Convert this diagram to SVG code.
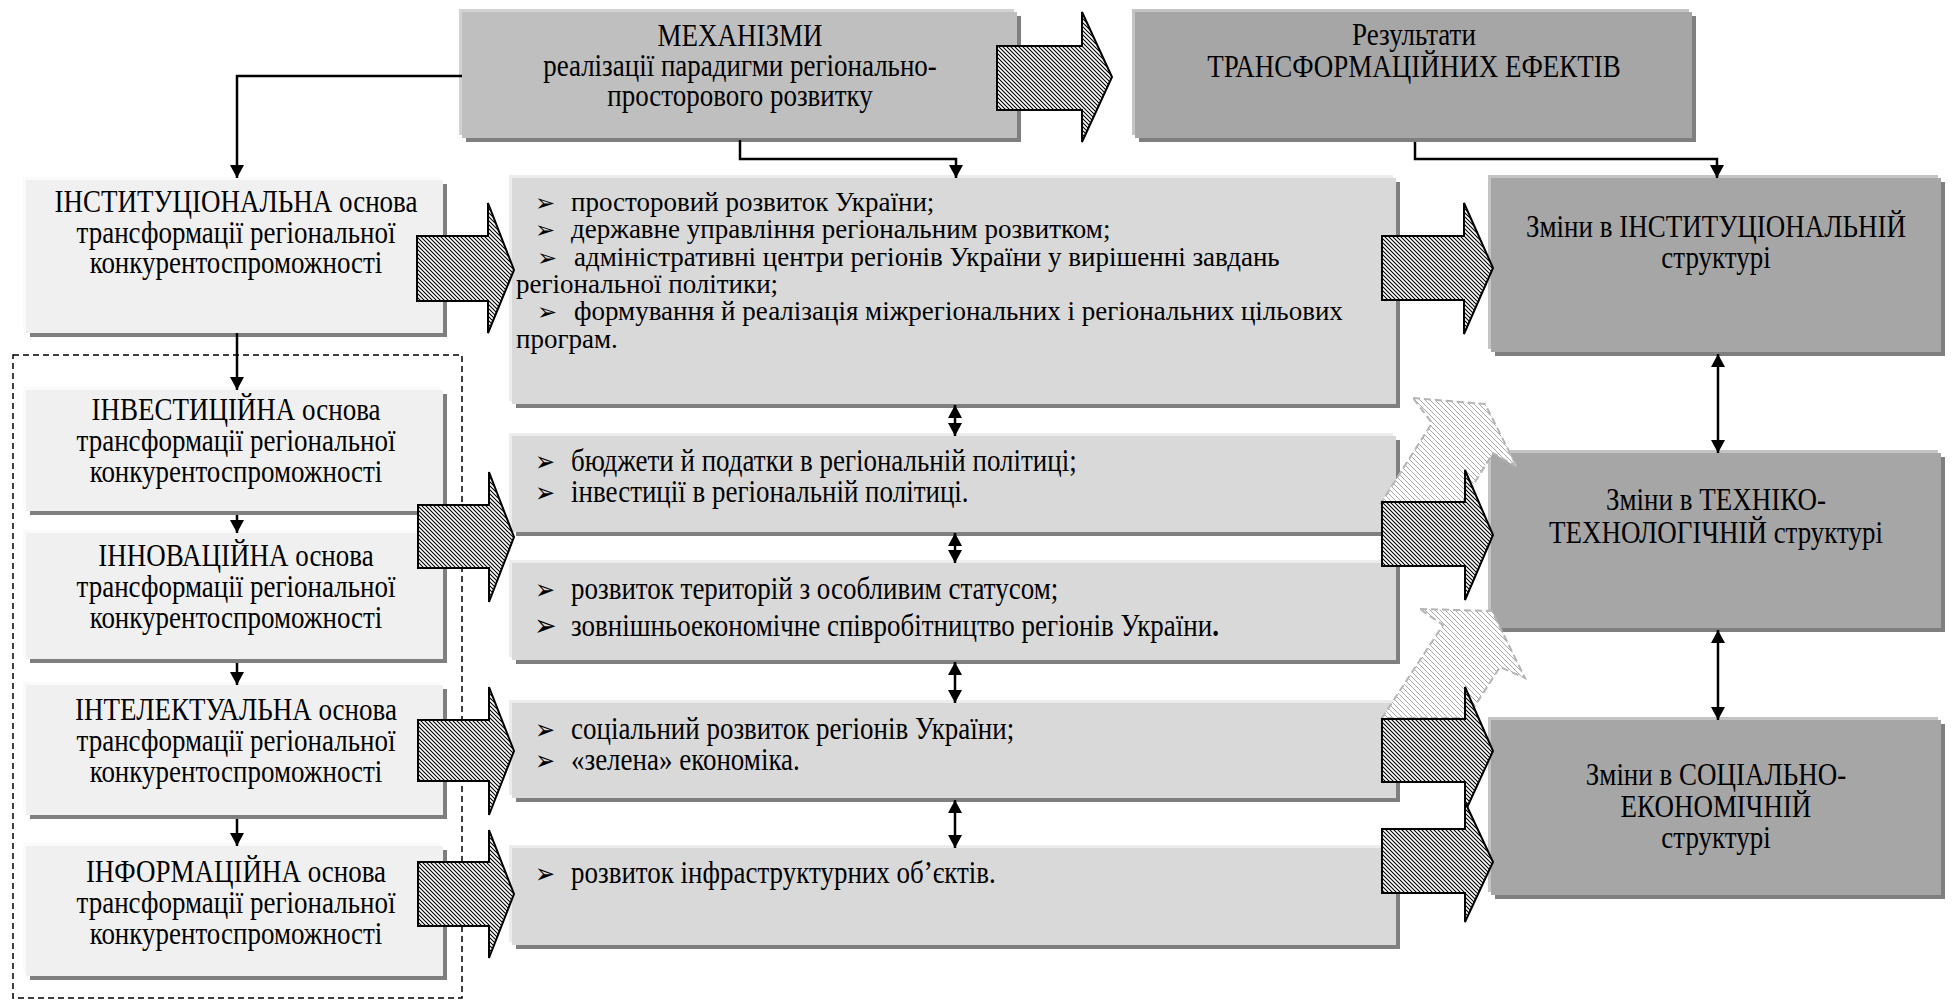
<svg xmlns="http://www.w3.org/2000/svg" width="1952" height="1001" viewBox="0 0 1952 1001" font-family="'Liberation Serif', 'Times New Roman', 'DejaVu Serif', serif">
<style>
text{font-family:'Liberation Serif','Times New Roman','DejaVu Serif',serif;font-size:27px;fill:#000}
.c{text-anchor:middle}
.b{font-family:'DejaVu Sans',sans-serif;font-size:24px}
.sh{fill:#7f7f7f}
.lt{fill:#f0f0f0}
.md{fill:#d9d9d9}
.mk{fill:#bfbfbf}
.dk{fill:#a6a6a6}
.hl1{fill:#fafafa}
.hl2{fill:#ececec}
.hl3{fill:#d2d2d2}
.hl4{fill:#c4c4c4}
.con{fill:none;stroke:#000;stroke-width:2.5}
.blk{fill:url(#hatch);stroke:#000;stroke-width:2;stroke-linejoin:miter}
.gh{fill:url(#ghatch);stroke:#b4b4b4;stroke-width:2;stroke-dasharray:7 4}
</style>
<defs>
<pattern id="hatch" width="4" height="4" patternUnits="userSpaceOnUse"><rect width="4" height="4" fill="#fff"/><path d="M-1,-1 L5,5 M3,-1 L5,1 M-1,3 L1,5" stroke="#000" stroke-width="1.1"/></pattern>
<pattern id="ghatch" width="5" height="5" patternUnits="userSpaceOnUse"><rect width="5" height="5" fill="#fff"/><path d="M-1,-1 L6,6 M4,-1 L6,1 M-1,4 L1,6" stroke="#a9a9a9" stroke-width="1"/></pattern>
<marker id="ah" viewBox="0 0 10 10" refX="10" refY="5" markerWidth="13" markerHeight="14" markerUnits="userSpaceOnUse" orient="auto-start-reverse" preserveAspectRatio="none"><path d="M0,0 L10,5 L0,10 z" fill="#000"/></marker>
</defs>

<rect x="13" y="355" width="449" height="643" fill="none" stroke="#000" stroke-width="1.5" stroke-dasharray="6 4"/>

<g id="mechanisms">
<rect x="459" y="9" width="555" height="126" class="hl3"/>
<rect x="466" y="16" width="555" height="126" class="sh"/>
<rect x="462" y="12" width="555" height="126" class="mk"/>
<text class="c" x="740" y="0" transform="matrix(1 0 0 1.15 0 46)">МЕХАНІЗМИ</text>
<text class="c" x="740" y="0" transform="matrix(1 0 0 1.15 0 76)">реалізації парадигми регіонально-</text>
<text class="c" x="740" y="0" transform="matrix(1 0 0 1.15 0 106)">просторового розвитку</text>
</g>

<g id="results">
<rect x="1132" y="9" width="557" height="126" class="hl4"/>
<rect x="1139" y="16" width="557" height="126" class="sh"/>
<rect x="1135" y="12" width="557" height="126" class="dk"/>
<text class="c" x="1414" y="0" transform="matrix(1 0 0 1.15 0 45)">Результати</text>
<text class="c" x="1414" y="0" transform="matrix(1 0 0 1.15 0 77)">ТРАНСФОРМАЦІЙНИХ ЕФЕКТІВ</text>
</g>

<g id="inst-basis">
<rect x="23" y="177" width="417" height="153" class="hl1"/>
<rect x="30" y="184" width="417" height="153" class="sh"/>
<rect x="26" y="180" width="417" height="153" class="lt"/>
<text class="c" x="236" y="0" transform="matrix(1 0 0 1.15 0 212)">ІНСТИТУЦІОНАЛЬНА основа</text>
<text class="c" x="236" y="0" transform="matrix(1 0 0 1.15 0 243)">трансформації регіональної</text>
<text class="c" x="236" y="0" transform="matrix(1 0 0 1.15 0 273)">конкурентоспроможності</text>
</g>

<g id="invest-basis">
<rect x="23" y="387" width="417" height="121" class="hl1"/>
<rect x="30" y="394" width="417" height="121" class="sh"/>
<rect x="26" y="390" width="417" height="121" class="lt"/>
<text class="c" x="236" y="0" transform="matrix(1 0 0 1.15 0 420)">ІНВЕСТИЦІЙНА основа</text>
<text class="c" x="236" y="0" transform="matrix(1 0 0 1.15 0 451)">трансформації регіональної</text>
<text class="c" x="236" y="0" transform="matrix(1 0 0 1.15 0 482)">конкурентоспроможності</text>
</g>

<g id="innov-basis">
<rect x="23" y="530" width="417" height="126" class="hl1"/>
<rect x="30" y="537" width="417" height="126" class="sh"/>
<rect x="26" y="533" width="417" height="126" class="lt"/>
<text class="c" x="236" y="0" transform="matrix(1 0 0 1.15 0 566)">ІННОВАЦІЙНА основа</text>
<text class="c" x="236" y="0" transform="matrix(1 0 0 1.15 0 597)">трансформації регіональної</text>
<text class="c" x="236" y="0" transform="matrix(1 0 0 1.15 0 628)">конкурентоспроможності</text>
</g>

<g id="intel-basis">
<rect x="23" y="682" width="417" height="130" class="hl1"/>
<rect x="30" y="689" width="417" height="130" class="sh"/>
<rect x="26" y="685" width="417" height="130" class="lt"/>
<text class="c" x="236" y="0" transform="matrix(1 0 0 1.15 0 720)">ІНТЕЛЕКТУАЛЬНА основа</text>
<text class="c" x="236" y="0" transform="matrix(1 0 0 1.15 0 751)">трансформації регіональної</text>
<text class="c" x="236" y="0" transform="matrix(1 0 0 1.15 0 782)">конкурентоспроможності</text>
</g>

<g id="inform-basis">
<rect x="23" y="843" width="417" height="130" class="hl1"/>
<rect x="30" y="850" width="417" height="130" class="sh"/>
<rect x="26" y="846" width="417" height="130" class="lt"/>
<text class="c" x="236" y="0" transform="matrix(1 0 0 1.15 0 882)">ІНФОРМАЦІЙНА основа</text>
<text class="c" x="236" y="0" transform="matrix(1 0 0 1.15 0 913)">трансформації регіональної</text>
<text class="c" x="236" y="0" transform="matrix(1 0 0 1.15 0 944)">конкурентоспроможності</text>
</g>

<g id="mech-1">
<rect x="509" y="175" width="884" height="226" class="hl2"/>
<rect x="516" y="182" width="884" height="226" class="sh"/>
<rect x="512" y="178" width="884" height="226" class="md"/>
<text y="211"><tspan class="b" x="535">➢</tspan><tspan x="571">просторовий розвиток України;</tspan></text>
<text y="238"><tspan class="b" x="535">➢</tspan><tspan x="571">державне управління регіональним розвитком;</tspan></text>
<text y="266"><tspan class="b" x="537">➢</tspan><tspan x="574">адміністративні центри регіонів України у вирішенні завдань</tspan></text>
<text x="516" y="293">регіональної політики;</text>
<text y="320"><tspan class="b" x="537">➢</tspan><tspan x="574">формування й реалізація міжрегіональних і регіональних цільових</tspan></text>
<text x="516" y="348">програм.</text>
</g>

<g id="mech-2">
<rect x="509" y="433" width="884" height="96" class="hl2"/>
<rect x="516" y="440" width="884" height="96" class="sh"/>
<rect x="512" y="436" width="884" height="96" class="md"/>
<text y="0" transform="matrix(1 0 0 1.15 0 471)"><tspan class="b" x="535">➢</tspan><tspan x="571">бюджети й податки в регіональній політиці;</tspan></text>
<text y="0" transform="matrix(1 0 0 1.15 0 502)"><tspan class="b" x="535">➢</tspan><tspan x="571">інвестиції в регіональній політиці.</tspan></text>
</g>

<g id="mech-3">
<rect x="509" y="560" width="884" height="97" class="hl2"/>
<rect x="516" y="567" width="884" height="97" class="sh"/>
<rect x="512" y="563" width="884" height="97" class="md"/>
<text y="0" transform="matrix(1 0 0 1.15 0 599)"><tspan class="b" x="535">➢</tspan><tspan x="571">розвиток територій з особливим статусом;</tspan></text>
<text y="0" transform="matrix(1 0 0 1.15 0 636)"><tspan class="b" x="534" style="font-size:27px">➢</tspan><tspan x="571">зовнішньоекономічне співробітництво регіонів України</tspan><tspan font-weight="bold">.</tspan></text>
</g>

<g id="mech-4">
<rect x="509" y="700" width="884" height="95" class="hl2"/>
<rect x="516" y="707" width="884" height="95" class="sh"/>
<rect x="512" y="703" width="884" height="95" class="md"/>
<text y="0" transform="matrix(1 0 0 1.15 0 739)"><tspan class="b" x="535">➢</tspan><tspan x="571">соціальний розвиток регіонів України;</tspan></text>
<text y="0" transform="matrix(1 0 0 1.15 0 770)"><tspan class="b" x="535">➢</tspan><tspan x="571">«зелена» економіка.</tspan></text>
</g>

<g id="mech-5">
<rect x="509" y="845" width="884" height="97" class="hl2"/>
<rect x="516" y="852" width="884" height="97" class="sh"/>
<rect x="512" y="848" width="884" height="97" class="md"/>
<text y="0" transform="matrix(1 0 0 1.15 0 883)"><tspan class="b" x="535">➢</tspan><tspan x="571">розвиток інфраструктурних об’єктів.</tspan></text>
</g>

<g id="res-inst">
<rect x="1488" y="175" width="450" height="174" class="hl4"/>
<rect x="1495" y="182" width="450" height="174" class="sh"/>
<rect x="1491" y="178" width="450" height="174" class="dk"/>
<text class="c" x="1716" y="0" transform="matrix(1 0 0 1.15 0 237)">Зміни в ІНСТИТУЦІОНАЛЬНІЙ</text>
<text class="c" x="1716" y="0" transform="matrix(1 0 0 1.15 0 268)">структурі</text>
</g>

<g id="res-tech">
<rect x="1488" y="450" width="450" height="175" class="hl4"/>
<rect x="1495" y="457" width="450" height="175" class="sh"/>
<rect x="1491" y="453" width="450" height="175" class="dk"/>
<text class="c" x="1716" y="0" transform="matrix(1 0 0 1.15 0 510)">Зміни в ТЕХНІКО-</text>
<text class="c" x="1716" y="0" transform="matrix(1 0 0 1.15 0 543)">ТЕХНОЛОГІЧНІЙ структурі</text>
</g>

<g id="res-soc">
<rect x="1488" y="717" width="450" height="175" class="hl4"/>
<rect x="1495" y="724" width="450" height="175" class="sh"/>
<rect x="1491" y="720" width="450" height="175" class="dk"/>
<text class="c" x="1716" y="0" transform="matrix(1 0 0 1.15 0 785)">Зміни в СОЦІАЛЬНО-</text>
<text class="c" x="1716" y="0" transform="matrix(1 0 0 1.15 0 817)">ЕКОНОМІЧНІЙ</text>
<text class="c" x="1716" y="0" transform="matrix(1 0 0 1.15 0 848)">структурі</text>
</g>

<g id="connectors">
<polygon class="gh" points="1413,398 1485,404 1517,467 1493,453 1462,503 1381,503 1432,423"/>
<polygon class="gh" points="1420,609 1492,611 1525,678 1500,667 1467,718 1382,718 1443,625"/>

<polygon class="blk" points="997,46 1082,46 1082,12 1112,77 1082,142 1082,110 997,110"/>
<polygon class="blk" points="417,236 488,236 488,203 514,270 488,333 488,301 417,301"/>
<polygon class="blk" points="418,505 489,505 489,472 514,537 489,602 489,568 418,568"/>
<polygon class="blk" points="418,720 489,720 489,687 514,751 489,815 489,781 418,781"/>
<polygon class="blk" points="418,862 489,862 489,830 514,894 489,958 489,926 418,926"/>
<polygon class="blk" points="1382,236 1464,236 1464,203 1493,268 1464,334 1464,300 1382,300"/>
<polygon class="blk" points="1382,502 1465,502 1465,470 1493,535 1465,600 1465,566 1382,566"/>
<polygon class="blk" points="1382,719 1465,719 1465,687 1493,751 1465,812 1465,782 1382,782"/>
<polygon class="blk" points="1382,829 1465,829 1465,802 1493,862 1465,922 1465,893 1382,893"/>

<path class="con" d="M462,76 H237 V178" marker-end="url(#ah)"/>
<path class="con" d="M740,140 V159 H956 V178" marker-end="url(#ah)"/>
<path class="con" d="M1415,142 V159 H1717 V178" marker-end="url(#ah)"/>
<path class="con" d="M237,333 V390" marker-end="url(#ah)"/>
<path class="con" d="M237,515 V533" marker-end="url(#ah)"/>
<path class="con" d="M237,663 V685" marker-end="url(#ah)"/>
<path class="con" d="M237,819 V846" marker-end="url(#ah)"/>
<path class="con" d="M955,405 V436" marker-start="url(#ah)" marker-end="url(#ah)"/>
<path class="con" d="M955,533 V563" marker-start="url(#ah)" marker-end="url(#ah)"/>
<path class="con" d="M955,662 V703" marker-start="url(#ah)" marker-end="url(#ah)"/>
<path class="con" d="M955,800 V848" marker-start="url(#ah)" marker-end="url(#ah)"/>
<path class="con" d="M1718,354 V453" marker-start="url(#ah)" marker-end="url(#ah)"/>
<path class="con" d="M1718,630 V720" marker-start="url(#ah)" marker-end="url(#ah)"/>
</g>
</svg>
